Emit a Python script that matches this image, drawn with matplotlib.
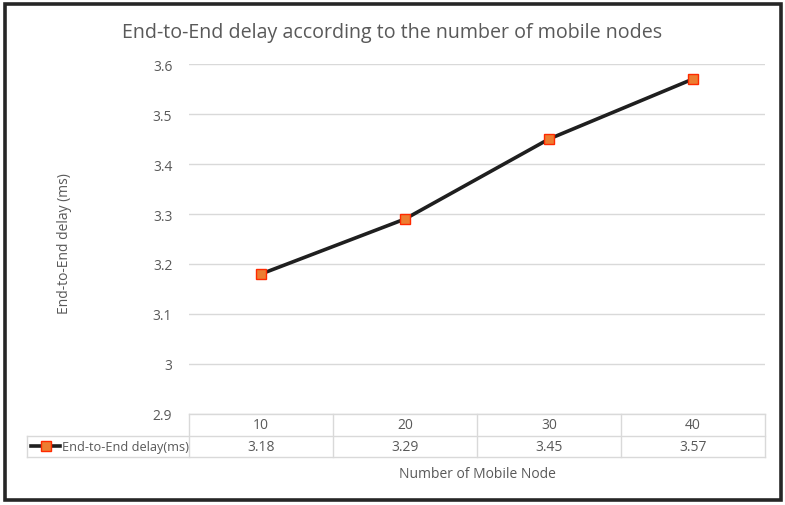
import matplotlib
matplotlib.use('Agg')
from matplotlib import pyplot as plt
from matplotlib.lines import Line2D
from matplotlib.patches import Rectangle

# data
nodes = [10, 20, 30, 40]
delay = [3.18, 3.29, 3.45, 3.57]
series_name = 'End-to-End delay(ms)'
yticks = [2.9, 3.0, 3.1, 3.2, 3.3, 3.4, 3.5, 3.6]
ytick_labels = ['2.9', '3', '3.1', '3.2', '3.3', '3.4', '3.5', '3.6']

W, H = 785, 506
txt = '#595959'
grid = '#d9d9d9'
plt.rcParams['font.family'] = ['Open Sans', 'DejaVu Sans']

fig = plt.figure(figsize=(W / 100, H / 100), dpi=100)


def fx(x):
    return x / W


def fy(y):
    return 1 - y / H


# outer frame
fig.add_artist(Rectangle((fx(4.5), fy(500.5)), fx(776), 496 / H, transform=fig.transFigure,
                         fill=False, edgecolor='#262626', linewidth=2.6))

left, right, top, bottom = 189, 765, 65, 415
ax = fig.add_axes([fx(left), fy(bottom), fx(right - left), (bottom - top) / H])

x = list(range(len(nodes)))
ax.plot(x, delay, '-', color='#1f1f1f', linewidth=2.6, marker='s', markersize=6.5,
        markerfacecolor='#ed7d31', markeredgecolor='#ff2a00', markeredgewidth=1.0, zorder=3)

ax.set_xlim(-0.5, len(nodes) - 0.5)
ax.set_ylim(yticks[0], yticks[-1])
ax.set_yticks(yticks)
ax.set_yticklabels(ytick_labels)
ax.set_xticks([])
ax.tick_params(axis='y', length=0, pad=12, labelsize=10, labelcolor=txt)
for s in ['top', 'right', 'left']:
    ax.spines[s].set_visible(False)
ax.spines['bottom'].set_color(grid)
ax.spines['bottom'].set_linewidth(1)
ax.grid(axis='y', color=grid, linewidth=1)
ax.set_axisbelow(True)

fig.text(fx(392), fy(33), 'End-to-End delay according to the number of mobile nodes',
         ha='center', va='center', fontsize=14.1, color=txt)
fig.text(fx(65), fy(244), 'End-to-End delay (ms)', rotation=90, ha='center', va='center',
         fontsize=10, color=txt)
fig.text(fx(477), fy(475), 'Number of Mobile Node', ha='center', va='center',
         fontsize=10, color=txt)

# data table under the axis
r0, r1, r2 = 415, 436.5, 458
tleft = 27
tr = fig.transFigure
fig.add_artist(Line2D([fx(tleft), fx(right)], [fy(r1), fy(r1)], transform=tr, color=grid, lw=1))
fig.add_artist(Line2D([fx(tleft), fx(right)], [fy(r2), fy(r2)], transform=tr, color=grid, lw=1))
fig.add_artist(Line2D([fx(tleft), fx(tleft)], [fy(r1), fy(r2)], transform=tr, color=grid, lw=1))
colw = (right - left) / len(nodes)
for i in range(len(nodes) + 1):
    xx = left + i * colw
    fig.add_artist(Line2D([fx(xx), fx(xx)], [fy(r0), fy(r2)], transform=tr, color=grid, lw=1))
for i, (n, d) in enumerate(zip(nodes, delay)):
    cx = left + (i + 0.5) * colw
    fig.text(fx(cx), fy((r0 + r1) / 2), str(n), ha='center', va='center', fontsize=10, color=txt)
    fig.text(fx(cx), fy((r1 + r2) / 2), '%.2f' % d, ha='center', va='center', fontsize=10, color=txt)

# legend key inside the table
ky = fy((r1 + r2) / 2)
fig.add_artist(Line2D([fx(31), fx(60)], [ky, ky], transform=tr, color='#1f1f1f', lw=2.6))
fig.add_artist(Line2D([fx(45.5)], [ky], transform=tr, marker='s', markersize=6.5,
                      markerfacecolor='#ed7d31', markeredgecolor='#ff2a00', markeredgewidth=1.0))
fig.text(fx(62), ky, series_name, ha='left', va='center', fontsize=9.2, color=txt)

fig.savefig('out.png', dpi=100)
